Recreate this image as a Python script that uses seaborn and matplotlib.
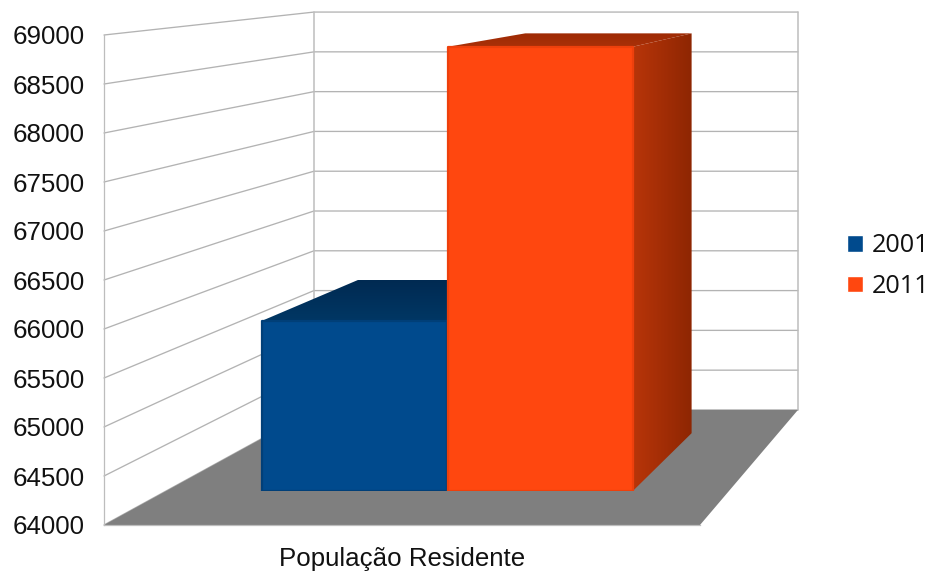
import numpy as np
import pandas as pd
import matplotlib
matplotlib.use("Agg")
import matplotlib.pyplot as plt
from matplotlib.colors import LinearSegmentedColormap
from matplotlib.patches import Polygon
import seaborn as sns

# Resident population by census year
categories = ["População Residente"]
years = ["2001", "2011"]
population = [65840, 68800]
y_ticks = [64000, 64500, 65000, 65500, 66000, 66500, 67000, 67500, 68000, 68500, 69000]

bar_colors = ["#004A8D", "#FF470F"]
edge_colors = ["#003F78", "#EE400C"]
top_shades = [("#002A52", "#003764"), ("#9E2B05", "#A93008")]
side_shades = [("#003A6E", "#002A52"), ("#B83509", "#8E2602")]

W, H = 928, 571
GRID = "#B3B3B3"

sns.set_theme(style="white")
plt.rcParams["font.family"] = ["Liberation Sans", "DejaVu Sans"]

fig = plt.figure(figsize=(W / 100, H / 100), dpi=100, facecolor="white")


def frame(left, top, right, bottom):
    """Axes rectangle from pixel edges measured from the top-left corner."""
    return [left / W, 1 - bottom / H, (right - left) / W, (bottom - top) / H]


# Scene layer in display pixels, holding walls, floor and receding bar faces
scene = fig.add_axes([0, 0, 1, 1], zorder=1)
scene.set_axis_off()

# Front plane of the box: carries the value axis and the category label
ax = fig.add_axes(frame(104, 35, 700, 525), zorder=2)
ax.patch.set_alpha(0)
ax.set_xlim(-0.5, 0.5)
ax.set_ylim(y_ticks[0], y_ticks[-1])
ax.set_yticks(y_ticks)
ax.set_yticklabels([str(v) for v in y_ticks], fontsize=18.6, color="#111111")
ax.set_xticks([0])
ax.set_xticklabels(categories, fontsize=18.6, color="#111111")
ax.tick_params(axis="y", length=0, pad=14)
ax.tick_params(axis="x", length=0, pad=15.5)
for name, spine in ax.spines.items():
    spine.set_visible(name in ("left", "bottom"))
    spine.set_color("#BDBDBD")
    spine.set_linewidth(0.9)

# One-point perspective: every receding edge heads for the vanishing point
VANISH = np.array([1221.0, H + 87.0])
S_BACK = 0.812
S_BAR_FRONT = 0.9444
S_BAR_BACK = 0.85


def project(x, value, depth):
    p = ax.transData.transform((x, value))
    return VANISH + depth * (p - VANISH)


def shaded_face(points, colors, horizontal):
    """Polygon filled with a linear two-colour gradient."""
    pts = np.array(points)
    cmap = LinearSegmentedColormap.from_list("face", colors)
    ramp = np.linspace(0, 1, 64)
    ramp = ramp[None, :] if horizontal else ramp[:, None]
    extent = (pts[:, 0].min(), pts[:, 0].max(), pts[:, 1].min(), pts[:, 1].max())
    image = scene.imshow(ramp, cmap=cmap, extent=extent, origin="upper",
                         aspect="auto", zorder=4, interpolation="bilinear")
    clip = Polygon(pts, closed=True, transform=scene.transData)
    image.set_clip_path(clip)


fig.canvas.draw()
v_min, v_max = y_ticks[0], y_ticks[-1]

# Floor
floor = [project(-0.5, v_min, 1), project(0.5, v_min, 1),
         project(0.5, v_min, S_BACK), project(-0.5, v_min, S_BACK)]
scene.add_patch(Polygon(floor, closed=True, facecolor="#7F7F7F", edgecolor="none", zorder=2))

# Gridlines running along the side wall and across the back wall
for v in y_ticks:
    path = np.array([project(-0.5, v, 1), project(-0.5, v, S_BACK), project(0.5, v, S_BACK)])
    scene.plot(path[:, 0], path[:, 1], color=GRID, lw=0.95, zorder=1, solid_joinstyle="miter")
for x_edge in (-0.5, 0.5):
    edge = np.array([project(x_edge, v_min, S_BACK), project(x_edge, v_max, S_BACK)])
    scene.plot(edge[:, 0], edge[:, 1], color="#BDBDBD", lw=1.1, zorder=1)

# Bars on the plane where their front faces stand
bl = project(-0.5, v_min, S_BAR_FRONT)
tr = project(0.5, v_max, S_BAR_FRONT)
bar_ax = fig.add_axes([bl[0] / W, bl[1] / H, (tr[0] - bl[0]) / W, (tr[1] - bl[1]) / H], zorder=3)
bar_ax.patch.set_alpha(0)

df = pd.DataFrame({
    "categoria": categories * len(years),
    "ano": years,
    "populacao": population,
})
sns.barplot(data=df, x="categoria", y="populacao", hue="ano", hue_order=years,
            palette=bar_colors, width=0.66, gap=0.005, saturation=1, ax=bar_ax)
bar_ax.set_xlim(-0.5, 0.5)
bar_ax.set_ylim(v_min, v_max)
bar_ax.set_axis_off()

# Rebase the bars on the axis minimum, so their rounded outline stays in view
bars = [c[0] for c in bar_ax.containers]
for bar, value, edge in zip(bars, population, edge_colors):
    bar.set_y(v_min)
    bar.set_height(value - v_min)
    bar.set_edgecolor(edge)
    bar.set_linewidth(1.6)
    bar.set_joinstyle("round")

# Top and side faces follow each bar's own geometry
for bar, top, side in zip(bars, top_shades, side_shades):
    x0, x1 = bar.get_x(), bar.get_x() + bar.get_width()
    value = bar.get_y() + bar.get_height()
    shaded_face([project(x0, value, S_BAR_FRONT), project(x1, value, S_BAR_FRONT),
                 project(x1, value, S_BAR_BACK), project(x0, value, S_BAR_BACK)],
                top, horizontal=False)
    shaded_face([project(x1, v_min, S_BAR_FRONT), project(x1, v_min, S_BAR_BACK),
                 project(x1, value, S_BAR_BACK), project(x1, value, S_BAR_FRONT)],
                side, horizontal=True)

scene.set_xlim(0, W)
scene.set_ylim(0, H)

# Legend at the right of the box
sns.move_legend(bar_ax, loc="center left", bbox_to_anchor=(826.6 / W, 1 - 266 / H),
                bbox_transform=fig.transFigure, frameon=False, title=None,
                fontsize=18.2, handlelength=0.64, handleheight=0.64,
                handletextpad=0.33, labelspacing=0.62, borderpad=0.3)
legend = bar_ax.get_legend()
legend.set_visible(True)
for text in legend.get_texts():
    text.set_family("Open Sans")
    text.set_color("#111111")

fig.savefig("out.png", dpi=100, facecolor="white")
